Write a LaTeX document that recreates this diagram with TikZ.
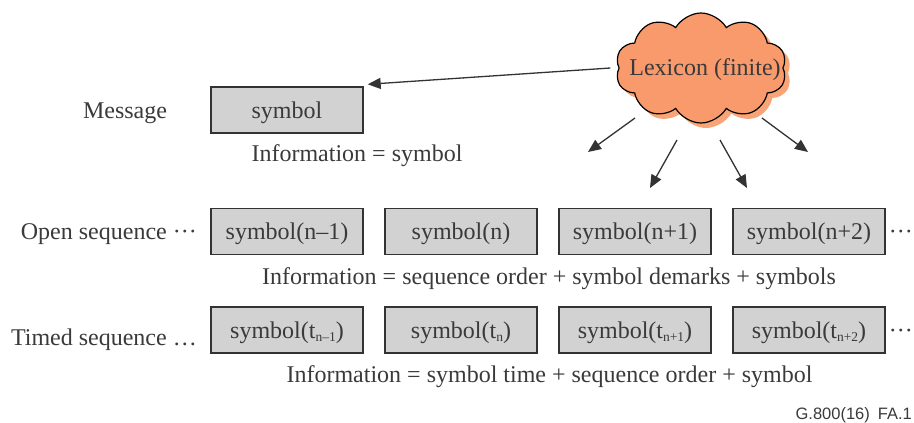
\documentclass[tikz,border=0pt]{standalone}
\usepackage{fontspec}
\setmainfont{Liberation Serif}
\setsansfont{Liberation Sans}
\usetikzlibrary{arrows.meta,shapes.symbols}
\definecolor{txt}{HTML}{3A3A3A}
\definecolor{boxfill}{HTML}{D2D2D2}
\definecolor{lnc}{HTML}{333333}
\definecolor{cloudfill}{HTML}{F89A6C}
\definecolor{cloudshadow}{HTML}{F9A477}
\newcommand{\sbs}[1]{\raisebox{-3.5pt}{\fontsize{13.5}{14}\selectfont #1}}
\begin{document}
\begin{tikzpicture}[x=1pt,y=-1pt,
  every node/.style={text=txt, font=\fontsize{24}{28}\selectfont, inner sep=0pt},
  symbox/.style={draw=lnc, line width=1.4pt, fill=boxfill, minimum width=152pt,
    minimum height=46pt, text height=16pt, text depth=0pt},
  lbl/.style={anchor=base},
  lexcloud/.style={cloud, cloud puffs=10, cloud puff arc=120, aspect=1.6,
    minimum width=171pt, minimum height=110pt},
  arr/.style={draw=lnc, line width=1.3pt, -{Triangle[length=13pt,width=11pt]}, color=lnc}
]
\useasboundingbox (0,0) rectangle (914,423);

% message row
\node[lbl] (msglbl) at (125,118) {Message};
\node[symbox] (msg) at (287,110) {symbol};
\node[lbl] (info1) at (357,161) {Information = symbol};

% open sequence
\node[anchor=base east] (openlbl) at (197,239) {Open sequence ···};
\node[symbox] (o1) at (287,231.5) {symbol(n–1)};
\node[symbox] (o2) at (461,231.5) {symbol(n)};
\node[symbox] (o3) at (635,231.5) {symbol(n+1)};
\node[symbox] (o4) at (809,231.5) {symbol(n+2)};
\node[anchor=base east] (odots) at (913,239) {···};
\node[lbl] (info2) at (549,284) {Information = sequence order + symbol demarks + symbols};

% timed sequence
\node[anchor=base east] (timedlbl) at (197,345) {Timed sequence …};
\node[symbox] (t1) at (287,330) {symbol(t\sbs{n–1})};
\node[symbox] (t2) at (461,330) {symbol(t\sbs{n})};
\node[symbox] (t3) at (635,330) {symbol(t\sbs{n+1})};
\node[symbox] (t4) at (809,330) {symbol(t\sbs{n+2})};
\node[anchor=base east] (tdots) at (913,338) {···};
\node[lbl] (info3) at (549.5,382) {Information = symbol time + sequence order + symbol};

% lexicon cloud
\node[lexcloud, fill=cloudshadow] (lexsh) at (706,73) {};
\node[lexcloud, draw=black, line width=1.2pt, fill=cloudfill] (lex) at (701,68) {};
\node (lextext) at ([shift={(4,2)}]lex.center) {Lexicon (finite)};

% arrows
\draw[arr] ([xshift=-8pt]lex.west) -- ([shift={(4,-2)}]msg.north east);
\coordinate (a1s) at (635,118); \coordinate (a1e) at (588,152);
\coordinate (a2s) at (677,140); \coordinate (a2e) at (650,188);
\coordinate (a3s) at (720,140); \coordinate (a3e) at (747,188);
\coordinate (a4s) at (762,118); \coordinate (a4e) at (808,152);
\draw[arr] (a1s) -- (a1e);
\draw[arr] (a2s) -- (a2e);
\draw[arr] (a3s) -- (a3e);
\draw[arr] (a4s) -- (a4e);

% footer
\node[anchor=base east, font=\sffamily\fontsize{16.5}{18}\selectfont] (foot) at (912,419) {G.800(16)\hspace{8pt}FA.1};
\end{tikzpicture}
\end{document}
